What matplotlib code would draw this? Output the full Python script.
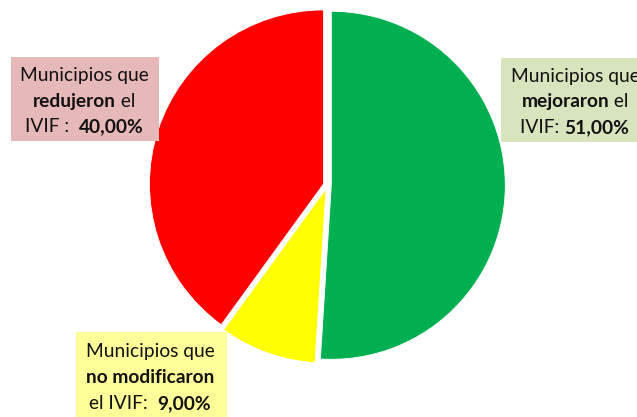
import matplotlib
matplotlib.use('Agg')
from matplotlib import pyplot as plt
from matplotlib.patches import Rectangle

# data
shares = [51.0, 9.0, 40.0]
slice_colors = ['#00B050', '#FFFF00', '#FF0000']

# label texts, one list of (text, bold) segments per line
label_green = [[('Municipios que', False)],
               [('mejoraron', True), (' el', False)],
               [('IVIF: ', False), ('51,00%', True)]]
label_yellow = [[('Municipios que', False)],
                [('no modificaron', True)],
                [('el IVIF:  ', False), ('9,00%', True)]]
label_red = [[('Municipios que', False)],
             [('redujeron', True), (' el', False)],
             [('IVIF :  ', False), ('40,00%', True)]]

W, H = 637, 417
FONT = 'Lato'
FS = 13.8

fig = plt.figure(figsize=(W / 100, H / 100), dpi=100)
ax = fig.add_axes([0, 0, 1, 1])

# explode is in data units (pixels here)
ax.pie(shares, colors=slice_colors, startangle=90, counterclock=False,
       explode=[4.0] * 3, radius=174, center=(327.3, H - 185.2),
       wedgeprops=dict(edgecolor='white', linewidth=0.6), frame=True)
ax.set_xlim(0, W)
ax.set_ylim(0, H)
ax.set_aspect('equal')
ax.axis('off')

renderer = fig.canvas.get_renderer()


def draw_label(lines, cx, baselines, box, face):
    x0, y0, x1, y1 = box
    ax.add_patch(Rectangle((x0, H - y1), x1 - x0, y1 - y0, facecolor=face,
                           edgecolor='none', zorder=3))
    for segs, yb in zip(lines, baselines):
        texts = []
        for s, b in segs:
            t = ax.text(0, H - yb, s, fontsize=FS, family=FONT,
                        fontweight='bold' if b else 'normal',
                        va='baseline', ha='left', zorder=4, color='#111111')
            texts.append(t)
        widths = [t.get_window_extent(renderer).width for t in texts]
        x = cx - sum(widths) / 2
        for t, w in zip(texts, widths):
            t.set_x(x)
            x += w


draw_label(label_red, 84.5, [81, 107, 132], (11, 57, 159, 141), '#E6B9B8')
draw_label(label_green, 575, [82, 107, 133], (501, 58, 640, 142), '#D7E4BD')
draw_label(label_yellow, 150, [357, 383, 409], (76, 332, 227, 420), '#FFFF99')

fig.savefig('out.png', dpi=100)
